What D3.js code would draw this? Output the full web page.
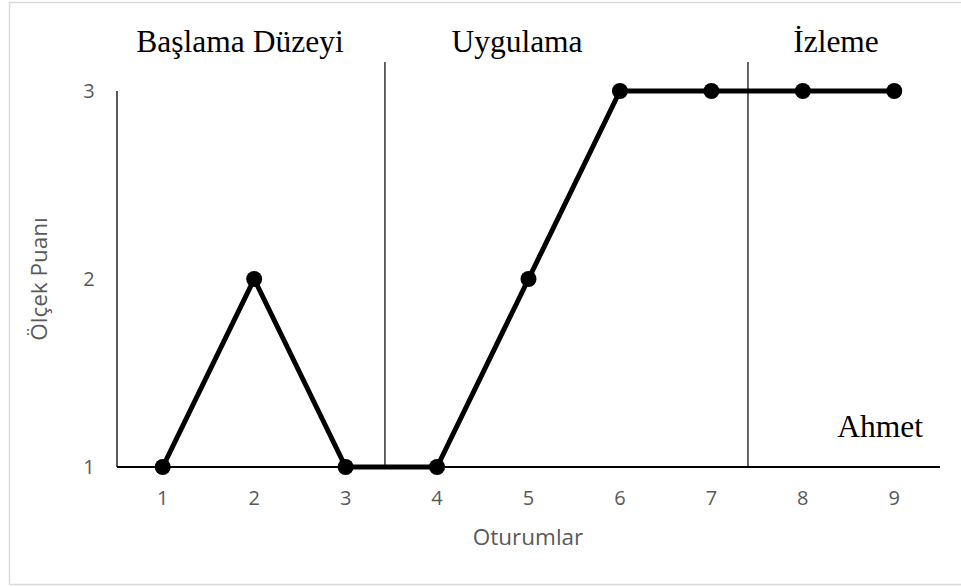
<!DOCTYPE html>
<html><head><meta charset="utf-8">
<script src="https://cdn.jsdelivr.net/npm/d3@7"></script>
<style>body{margin:0;background:#fff}</style>
</head><body>
<svg id="c" width="961" height="587"></svg>
<script>
const sessions = ["1","2","3","4","5","6","7","8","9"];
const scores = [1,2,1,1,2,3,3,3,3];
const yTicks = [1,2,3];
const phases = ["Başlama Düzeyi","Uygulama","İzleme"];
const phaseBreaks = [3.43, 7.4];
const studentName = "Ahmet";
const xTitle = "Oturumlar";
const yTitle = "Ölçek Puanı";

const svg = d3.select("#c");
const W = 961, H = 587;
svg.append("rect").attr("x",9.5).attr("y",2.5).attr("width",W).attr("height",582)
  .attr("fill","#fff").attr("stroke","#d9d9d9").attr("stroke-width",1.5);

const L = 117, R = 940, T = 91, B = 467;
const x = d3.scaleBand().domain(sessions).range([L,R]);
const xc = d => x(d) + x.bandwidth()/2;
const xLin = d3.scaleLinear().domain([0.5,9.5]).range([L,R]);
const y = d3.scaleLinear().domain([1,3]).range([B,T]);

const gray = "#595959";
svg.append("line").attr("x1",L).attr("x2",L).attr("y1",T).attr("y2",B)
  .attr("stroke","#000").attr("stroke-width",1.3);
svg.append("line").attr("x1",L).attr("x2",R).attr("y1",B).attr("y2",B)
  .attr("stroke","#000").attr("stroke-width",2);

svg.append("g").selectAll("text").data(yTicks).join("text")
  .attr("x",89).attr("y",d=>y(d)).attr("dy","0.35em").attr("text-anchor","middle")
  .attr("font-family","'Open Sans', sans-serif").attr("font-size",20).attr("fill",gray)
  .text(d=>d);
svg.append("g").selectAll("text").data(sessions).join("text")
  .attr("x",d=>xc(d)).attr("y",498).attr("dy","0.35em").attr("text-anchor","middle")
  .attr("font-family","'Open Sans', sans-serif").attr("font-size",20).attr("fill",gray)
  .text(d=>d);

svg.append("text").attr("x",528).attr("y",537).attr("dy","0.35em").attr("text-anchor","middle")
  .attr("font-family","'Open Sans', sans-serif").attr("font-size",22.5).attr("fill",gray).text(xTitle);
svg.append("text").attr("transform","translate(39,279) rotate(-90)").attr("dy","0.35em")
  .attr("text-anchor","middle")
  .attr("font-family","'Open Sans', sans-serif").attr("font-size",22.5).attr("fill",gray).text(yTitle);

svg.append("g").selectAll("line").data(phaseBreaks).join("line")
  .attr("x1",d=>xLin(d)).attr("x2",d=>xLin(d)).attr("y1",62).attr("y2",B)
  .attr("stroke","#000").attr("stroke-width",1.2);

const phaseX = [240, 517, 836];
svg.append("g").selectAll("text").data(phases).join("text")
  .attr("x",(d,i)=>phaseX[i]).attr("y",52).attr("text-anchor","middle")
  .attr("font-family","'Liberation Serif', 'Times New Roman', serif").attr("font-size",31.5).attr("fill","#000")
  .text(d=>d);
svg.append("text").attr("x",923).attr("y",437).attr("text-anchor","end")
  .attr("font-family","'Liberation Serif', 'Times New Roman', serif").attr("font-size",31.5).attr("fill","#000")
  .text(studentName);

const pts = sessions.map((s,i)=>({s, v:scores[i]}));
svg.append("path").datum(pts)
  .attr("d", d3.line().x(d=>xc(d.s)).y(d=>y(d.v)))
  .attr("fill","none").attr("stroke","#000").attr("stroke-width",5).attr("stroke-linejoin","round");
svg.append("g").selectAll("circle").data(pts).join("circle")
  .attr("cx",d=>xc(d.s)).attr("cy",d=>y(d.v)).attr("r",8).attr("fill","#000");
</script>
</body></html>
